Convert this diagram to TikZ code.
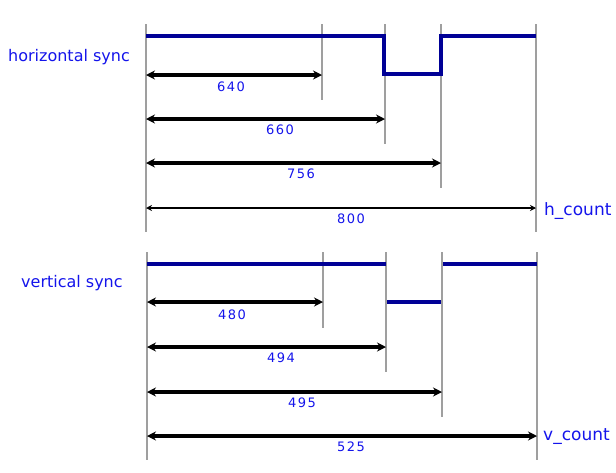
\documentclass[tikz,border=0pt]{standalone}
\usepackage{fontspec}
\setmainfont{DejaVu Sans}
\usepackage{tikz}
\usetikzlibrary{arrows.meta}
\definecolor{navy}{RGB}{0,0,150}
\definecolor{labelblue}{RGB}{20,20,235}

\begin{document}
\begin{tikzpicture}[x=1pt,y=-1pt,
  tick/.style={gray!75,line width=1.8pt},
  sync/.style={navy,line width=3.6pt},
  span/.style={line width=3.2pt,{Stealth[length=9pt,width=9pt]}-{Stealth[length=9pt,width=9pt]}},
  thinspan/.style={line width=1.6pt,{Stealth[length=6pt,width=6pt,open]}-{Stealth[length=6pt,width=6pt]}},
  countlbl/.style={text=labelblue,inner sep=0pt,font=\fontsize{13}{13}\selectfont\addfontfeature{LetterSpace=12}},
  siglbl/.style={text=labelblue,inner sep=0pt,anchor=base west,font=\fontsize{16}{16}\selectfont}]
  \useasboundingbox (0,0) rectangle (616,472);

  % horizontal timing
  \foreach \n/\x/\b in {0/146/232, 640/322/100, 660/385/144, 756/441/188, 800/536/232}{
    \coordinate (ht\n) at (\x,24);
    \coordinate (hb\n) at (\x,\b);
    \draw[tick] (ht\n) -- (hb\n);
  }
  \draw[sync] (146,36) -- (384,36) -- (384,74) -- (441,74) -- (441,36) -- (536,36);
  \node[siglbl] (hsync) at (8,61) {horizontal sync};
  \draw[span] (ht0 |- 0,75) -- (ht640 |- 0,75);
  \node[countlbl] (l640) at (231,87) {640};
  \draw[span] (ht0 |- 0,119) -- (ht660 |- 0,119);
  \node[countlbl] (l660) at (280,130) {660};
  \draw[span] (ht0 |- 0,163) -- (ht756 |- 0,163);
  \node[countlbl] (l756) at (301,174) {756};
  \draw[thinspan] (ht0 |- 0,208) -- (ht800 |- 0,208);
  \node[countlbl] (l800) at (351,219) {800};
  \node[siglbl,font=\fontsize{17}{17}\selectfont] (hcount) at (544,215) {h\_count};

  % vertical timing
  \foreach \n/\x/\b in {0/147/460, 480/323/328, 494/386/372, 495/442/417, 525/537/460}{
    \coordinate (vt\n) at (\x,252);
    \coordinate (vb\n) at (\x,\b);
    \draw[tick] (vt\n) -- (vb\n);
  }
  \draw[sync] (147,264) -- (386,264);
  \draw[sync] (387,302) -- (441,302);
  \draw[sync] (443,264) -- (537,264);
  \node[siglbl] (vsync) at (21,287) {vertical sync};
  \draw[span] (vt0 |- 0,302) -- (vt480 |- 0,302);
  \node[countlbl] (l480) at (232,315) {480};
  \draw[span] (vt0 |- 0,347) -- (vt494 |- 0,347);
  \node[countlbl] (l494) at (281,358) {494};
  \draw[span] (vt0 |- 0,392) -- (vt495 |- 0,392);
  \node[countlbl] (l495) at (302,403) {495};
  \draw[span] (vt0 |- 0,436) -- (vt525 |- 0,436);
  \node[countlbl] (l525) at (351,447) {525};
  \node[siglbl,font=\fontsize{17}{17}\selectfont] (vcount) at (543,440) {v\_count};
\end{tikzpicture}
\end{document}
